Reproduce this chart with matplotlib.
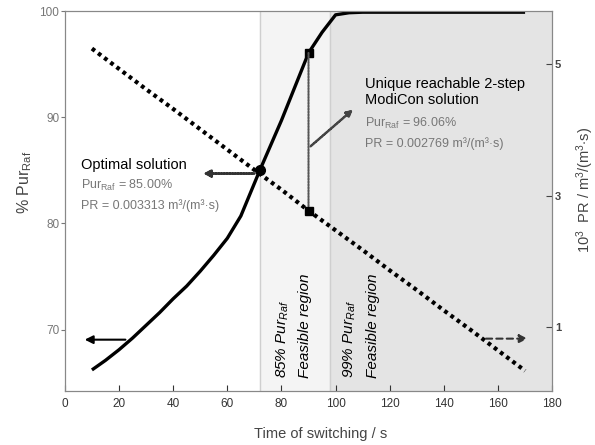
import matplotlib
matplotlib.use('Agg')
import matplotlib.pyplot as plt
from matplotlib.patches import ConnectionPatch

plt.rcParams['font.family'] = ['Liberation Sans', 'DejaVu Sans']
plt.rcParams['mathtext.fontset'] = 'custom'
plt.rcParams['mathtext.rm'] = 'Liberation Sans'
plt.rcParams['mathtext.it'] = 'Liberation Sans:italic'

# purity of raffinate (left axis) vs switching time
time_pur = [10, 15, 20, 25, 30, 35, 40, 45, 50, 55, 60, 65, 72, 80, 90, 95, 100,
            105, 110, 120, 130, 140, 150, 160, 170]
purity = [66.2, 67.1, 68.1, 69.2, 70.4, 71.6, 72.9, 74.1, 75.5, 77.0, 78.6, 80.7,
          85.0, 89.7, 96.06, 98.0, 99.65, 99.85, 99.9, 99.9, 99.9, 99.9, 99.9, 99.9, 99.9]
# productivity (right axis, x10^3) vs switching time
time_pr = [10, 20, 30, 40, 50, 60, 72, 80, 90, 100, 110, 120, 130, 140, 150, 160, 170]
prod = [5.24, 4.93, 4.62, 4.32, 4.01, 3.70, 3.33, 3.09, 2.77, 2.47, 2.17, 1.86,
        1.56, 1.25, 0.95, 0.64, 0.33]

opt_time, opt_pur = 72, 85.00
modi_time, modi_pur, modi_pr = 90, 96.06, 2.769
region_85 = (72, 98)
region_99 = (98, 180)

fig = plt.figure(figsize=(5.95, 4.45), dpi=100)
ax = fig.add_axes([0.109, 0.121, 0.819, 0.854])
ax2 = ax.twinx()

ax.axvspan(*region_85, color='#f4f4f4', zorder=0)
ax.axvspan(*region_99, color='#e4e4e4', zorder=0)
for xv in (region_85[0], region_99[0]):
    ax.axvline(xv, color='#cfcfcf', lw=1, zorder=0.5)

ax.plot(time_pur, purity, color='black', lw=2.4, solid_capstyle='butt', solid_joinstyle='round')
ax2.plot(time_pr, prod, color='black', lw=3, linestyle=(0, (0.9, 0.95)))

ax.plot(opt_time, opt_pur, 'o', color='black', ms=7, zorder=5)
ax.plot(modi_time, modi_pur, 's', color='black', ms=6, zorder=5)
ax2.plot(modi_time, modi_pr, 's', color='black', ms=6, zorder=5)

con = ConnectionPatch(xyA=(modi_time, modi_pur), coordsA=ax.transData,
                      xyB=(modi_time, modi_pr), coordsB=ax2.transData,
                      color='#555555', lw=1.5, linestyle=(0, (0.7, 0.7)))
ax2.add_artist(con)

ax.set_xlim(0, 180)
ax.set_ylim(64.2, 100)
ax2.set_ylim(0.02, 5.81)
ax.set_xticks(range(0, 181, 20))
ax.set_yticks([70, 80, 90, 100])
ax2.set_yticks([1, 3, 5])

ax.tick_params(axis='x', direction='in', length=4, labelsize=8.5, colors='#333333', pad=5)
ax.tick_params(axis='y', direction='out', length=3, labelsize=8.5, colors='#777777', pad=1)
ax2.tick_params(axis='y', direction='in', length=4, labelsize=8, colors='#444444', pad=2)
for lab in ax2.get_yticklabels():
    lab.set_fontweight('bold')
for sp in ax.spines.values():
    sp.set_color('#888888')
for sp in ax2.spines.values():
    sp.set_color('#888888')

ax.set_xlabel('Time of switching / s', fontsize=10.5, color='#444444')
ax.xaxis.set_label_coords(0.525, -0.095)
ax.set_ylabel(r'% Pur$_{\mathrm{Raf}}$', fontsize=11.5, color='#444444')
ax.yaxis.set_label_coords(-0.064, 0.55)
ax2.set_ylabel(r'10$^{3}$  PR / m$^{3}$/(m$^{3}$$\cdot$s)', fontsize=10.5, color='#444444')
ax2.yaxis.set_label_coords(1.045, 0.53)

# side arrows pointing to the matching axis
ax.annotate('', xy=(6.3, 69.05), xytext=(23.4, 69.05),
            arrowprops=dict(arrowstyle='-|>', color='black', lw=1.5, mutation_scale=12))
ax2.annotate('', xy=(172, 0.82), xytext=(154.5, 0.82),
             arrowprops=dict(arrowstyle='-|>', color='#333333', lw=1.5,
                             linestyle=(0, (3, 2)), mutation_scale=12))

# annotation arrows
ax.annotate('', xy=(50, opt_pur - 0.3), xytext=(opt_time - 1, opt_pur - 0.3),
            arrowprops=dict(arrowstyle='-|>', color='#333333', lw=2,
                            linestyle=(0, (0.6, 0.4)), mutation_scale=10))
ax.annotate('', xy=(107.2, 90.9), xytext=(modi_time, 87.1),
            arrowprops=dict(arrowstyle='-|>', color='#444444', lw=1.8,
                            linestyle=(0, (0.6, 0.4)), mutation_scale=9))

ax.text(5.9, 85.15, 'Optimal solution', fontsize=10.5, color='black')
ax.text(5.9, 83.25, r'Pur$_{\mathrm{Raf}}$ = 85.00%', fontsize=9, color='#777777')
ax.text(5.9, 81.4, 'PR = 0.003313 m³/(m³·s)', fontsize=9, color='#777777')

ax.text(110.9, 92.8, 'Unique reachable 2-step', fontsize=10.5, color='black')
ax.text(110.9, 91.25, 'ModiCon solution', fontsize=10.5, color='black')
ax.text(110.9, 89.1, r'Pur$_{\mathrm{Raf}}$ = 96.06%', fontsize=9, color='#777777')
ax.text(110.9, 87.2, 'PR = 0.002769 m³/(m³·s)', fontsize=9, color='#777777')

for xt, txt in [(80.6, r'85% $Pur_{Raf}$'), (88.7, 'Feasible region'),
                (105.4, r'99% $Pur_{Raf}$'), (113.9, 'Feasible region')]:
    ax.text(xt, 65.4, txt, rotation=90, ha='center', va='bottom', fontsize=11,
            style='italic', color='black')

fig.savefig('out.png', dpi=100)
